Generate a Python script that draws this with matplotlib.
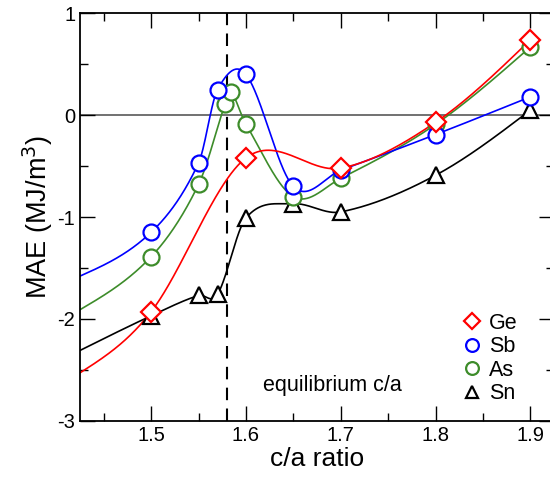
import numpy as np
import matplotlib
matplotlib.use("Agg")
from matplotlib import pyplot as plt
from matplotlib.ticker import MultipleLocator

plt.rcParams['font.family'] = ['Liberation Sans', 'DejaVu Sans']
plt.rcParams['axes.unicode_minus'] = False

# c/a ratio and MAE (MJ/m^3) for each dopant
x_ge = [1.5, 1.6, 1.7, 1.8, 1.9]
mae_ge = [-1.93, -0.42, -0.52, -0.07, 0.74]

x_sb = [1.5, 1.55, 1.57, 1.6, 1.65, 1.7, 1.8, 1.9]
mae_sb = [-1.15, -0.47, 0.25, 0.40, -0.70, -0.54, -0.19, 0.18]

x_as = [1.5, 1.55, 1.578, 1.584, 1.6, 1.65, 1.7, 1.8, 1.9]
mae_as = [-1.39, -0.68, 0.11, 0.23, -0.09, -0.80, -0.62, -0.09, 0.67]

x_sn = [1.5, 1.55, 1.57, 1.6, 1.65, 1.7, 1.8, 1.9]
mae_sn = [-1.97, -1.77, -1.76, -1.01, -0.87, -0.95, -0.59, 0.05]

# where each smoothed curve meets the left axis (c/a = 1.425)
x_edge = 1.425
edge_ge, edge_sb, edge_as, edge_sn = -2.53, -1.58, -1.91, -2.31

eq_ca = 1.58


def smooth(x, y, n=800):
    # piecewise cubic Hermite, Catmull-Rom tangents, natural ends
    x = np.asarray(x, float)
    y = np.asarray(y, float)
    h = np.diff(x)
    d = np.diff(y) / h
    m = np.empty_like(y)
    m[1:-1] = (y[2:] - y[:-2]) / (x[2:] - x[:-2])
    m[0] = (3 * d[0] - m[1]) / 2
    m[-1] = (3 * d[-1] - m[-2]) / 2
    xs = np.linspace(x[0], x[-1], n)
    k = np.clip(np.searchsorted(x, xs) - 1, 0, len(x) - 2)
    t = (xs - x[k]) / h[k]
    h00 = 2 * t**3 - 3 * t**2 + 1
    h10 = t**3 - 2 * t**2 + t
    h01 = -2 * t**3 + 3 * t**2
    h11 = t**3 - t**2
    ys = h00 * y[k] + h10 * h[k] * m[k] + h01 * y[k + 1] + h11 * h[k] * m[k + 1]
    return xs, ys


fig = plt.figure(figsize=(5.5, 4.79), dpi=100)
ax = fig.add_axes([0.1455, 0.1217, 0.862, 0.8505])

ax.axhline(0, color='0.35', lw=1.2, zorder=1)
ax.axvline(eq_ca, color='k', lw=1.5, ls=(0, (6, 4)), zorder=1)

series = [
    (x_sn, mae_sn, edge_sn, 'k', '^', 'Sn'),
    (x_as, mae_as, edge_as, '#3d8c2a', 'o', 'As'),
    (x_sb, mae_sb, edge_sb, '#0000ff', 'o', 'Sb'),
    (x_ge, mae_ge, edge_ge, '#ff0000', 'D', 'Ge'),
]
handles = {}
for xs_, ys_, edge, col, mk, lab in series:
    cx, cy = smooth([x_edge] + xs_, [edge] + ys_)
    ax.plot(cx, cy, color=col, lw=1.2, zorder=2)
    ms = 10 if mk == 'D' else 11.5
    h, = ax.plot(xs_, ys_, ls='none', marker=mk, ms=ms, mfc='white', mec=col,
                 mew=1.6, zorder=3, label=lab)
    handles[lab] = h

ax.set_xlim(1.425, 1.925)
ax.set_ylim(-3, 1)
ax.xaxis.set_major_locator(MultipleLocator(0.1))
ax.xaxis.set_minor_locator(MultipleLocator(0.05))
ax.yaxis.set_major_locator(MultipleLocator(1))
ax.yaxis.set_minor_locator(MultipleLocator(0.5))
ax.tick_params(which='both', direction='in', top=True, right=True,
               labelsize=14.5, width=1)
ax.tick_params(which='major', length=11)
ax.tick_params(which='minor', length=5.5)
for s in ax.spines.values():
    s.set_linewidth(1.3)

ax.set_xlabel("c/a ratio", fontsize=19, labelpad=2)
ax.set_ylabel("MAE (MJ/m$^3$)", fontsize=19.5, labelpad=2)

ax.text(1.6176, -2.708, "equilibrium c/a", fontsize=15.5)

order = ['Ge', 'Sb', 'As', 'Sn']
leg = ax.legend([handles[k] for k in order], order, loc='upper left',
                bbox_to_anchor=(0.809, 0.265), frameon=False, fontsize=15.5,
                handlelength=0.8, handletextpad=0.39, labelspacing=0.12,
                markerscale=0.8, borderpad=0, borderaxespad=0)

fig.savefig("out.png", dpi=100)
